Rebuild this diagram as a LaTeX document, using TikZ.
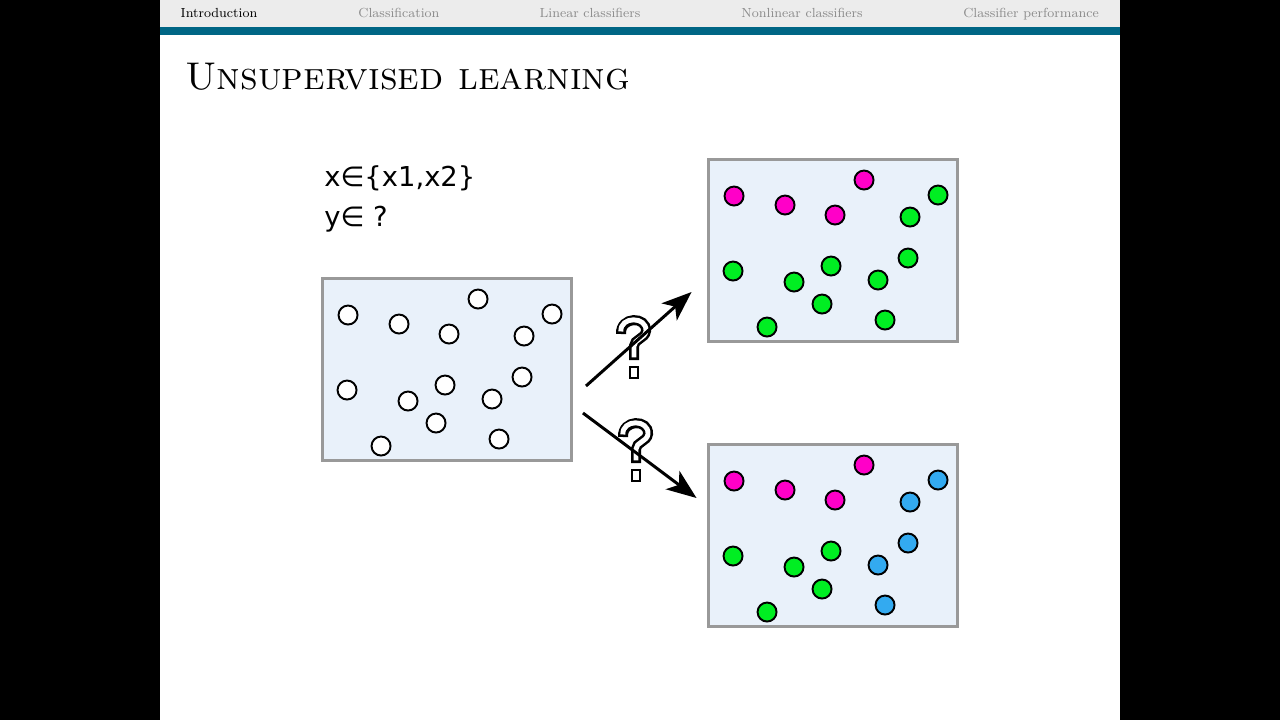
\documentclass[tikz,border=0pt]{standalone}
\usepackage{fontspec}
\newfontfamily\dejavu{DejaVu Sans}
\usetikzlibrary{arrows.meta,positioning,calc}
\usepackage{xcolor}
\definecolor{navgray}{RGB}{236,236,236}
\definecolor{navteal}{RGB}{0,102,133}
\definecolor{navtext}{RGB}{140,140,140}
\definecolor{panelfill}{RGB}{233,241,250}
\definecolor{panelline}{RGB}{153,153,153}
\definecolor{dotpink}{RGB}{255,0,200}
\definecolor{dotgreen}{RGB}{0,238,34}
\definecolor{dotblue}{RGB}{51,170,240}

\begin{document}
\begin{tikzpicture}[
  x=0.02cm, y=-0.02cm,
  panel/.style={draw=panelline, fill=panelfill, line width=1.7pt,
                minimum width=4.98cm, minimum height=3.64cm, inner sep=0pt},
  dot/.style={circle, draw=black, line width=1.1pt, minimum size=0.38cm, inner sep=0pt},
  navitem/.style={anchor=base, font=\fontsize{7.5}{9}\selectfont, text=navtext, inner sep=0pt},
  formula/.style={anchor=base west, font=\dejavu\fontsize{15.6}{18}\selectfont, inner sep=0pt},
  guess/.style={line width=1.7pt, -{Stealth[length=17pt, width=13pt, inset=4.5pt]}},
  qmark/.pic={
    \draw[black, line width=5.7pt]
      (-12,-14) .. controls (-13,-32) and (14,-32) .. (13,-17)
      .. controls (12,-9) and (1,-9) .. (1,-2) -- (1,12);
    \draw[white, line width=2.8pt, shorten <=1.45pt, shorten >=1.45pt]
      (-12,-14) .. controls (-13,-32) and (14,-32) .. (13,-17)
      .. controls (12,-9) and (1,-9) .. (1,-2) -- (1,12);
    \draw[black, fill=white, line width=1.4pt] (-3,19) rectangle (5,30);
  },
]
  \useasboundingbox (0,0) rectangle (1280,720);

  % --- Frame and navigation bar ---
  \fill[black] (0,0) rectangle (1280,720);
  \fill[white] (160,0) rectangle (1120,720);
  \fill[navgray] (160,0) rectangle (1120,27);
  \fill[navteal] (160,27) rectangle (1120,35);

  \node[navitem, text=black] (nav1) at (219,17) {Introduction};
  \node[navitem] (nav2) at (399,17) {Classification};
  \node[navitem] (nav3) at (590,17) {Linear classifiers};
  \node[navitem] (nav4) at (802,17) {Nonlinear classifiers};
  \node[navitem] (nav5) at (1031,17) {Classifier performance};

  \node[anchor=base west, font=\fontsize{22}{26}\selectfont, inner sep=0pt]
    (title) at (185,89) {\textsc{Unsupervised learning}};

  % --- Feature and label sets ---
  \node[formula] (xset) at (324,186) {x∈\{x1,x2\}};
  \node[formula] (yset) at (324,226) {y∈ ?};

  % --- Unlabelled data (left) ---
  \node[panel] (src) at (447,369.5) {};
  \foreach \px/\py [count=\k] in {27/38, 78/47, 128/57, 157/22, 203/59, 231/37,
      26/113, 87/124, 124/108, 171/122, 201/100, 115/146, 60/169, 178/162} {
    \node[dot, fill=white] (s\k) at ($(src.north west)+(\px,\py)$) {};
  }

  % --- Two clusters (top right) ---
  \node[panel] (top) at (833,250.5) {};
  \foreach \px/\py/\c [count=\k] in {27/38/dotpink, 78/47/dotpink, 128/57/dotpink,
      157/22/dotpink, 203/59/dotgreen, 231/37/dotgreen, 26/113/dotgreen,
      87/124/dotgreen, 124/108/dotgreen, 171/122/dotgreen, 201/100/dotgreen,
      115/146/dotgreen, 60/169/dotgreen, 178/162/dotgreen} {
    \node[dot, fill=\c] (t\k) at ($(top.north west)+(\px,\py)$) {};
  }

  % --- Three clusters (bottom right) ---
  \node[panel] (bot) at (833,535.5) {};
  \foreach \px/\py/\c [count=\k] in {27/38/dotpink, 78/47/dotpink, 128/57/dotpink,
      157/22/dotpink, 203/59/dotblue, 231/37/dotblue, 26/113/dotgreen,
      87/124/dotgreen, 124/108/dotgreen, 171/122/dotblue, 201/100/dotblue,
      115/146/dotgreen, 60/169/dotgreen, 178/162/dotblue} {
    \node[dot, fill=\c] (b\k) at ($(bot.north west)+(\px,\py)$) {};
  }

  % --- Which grouping? ---
  \pic (q1) at (633,348) {qmark};
  \pic (q2) at (635,451) {qmark};

  \coordinate (up0) at ($(src.east)+(13,16.5)$);
  \coordinate (up1) at ($(top.west)+(-15.5,41.5)$);
  \coordinate (dn0) at ($(src.east)+(10,43.5)$);
  \coordinate (dn1) at ($(bot.west)+(-10.5,-37.5)$);
  \draw[guess] (up0) -- (up1);
  \draw[guess] (dn0) -- (dn1);
\end{tikzpicture}
\end{document}
